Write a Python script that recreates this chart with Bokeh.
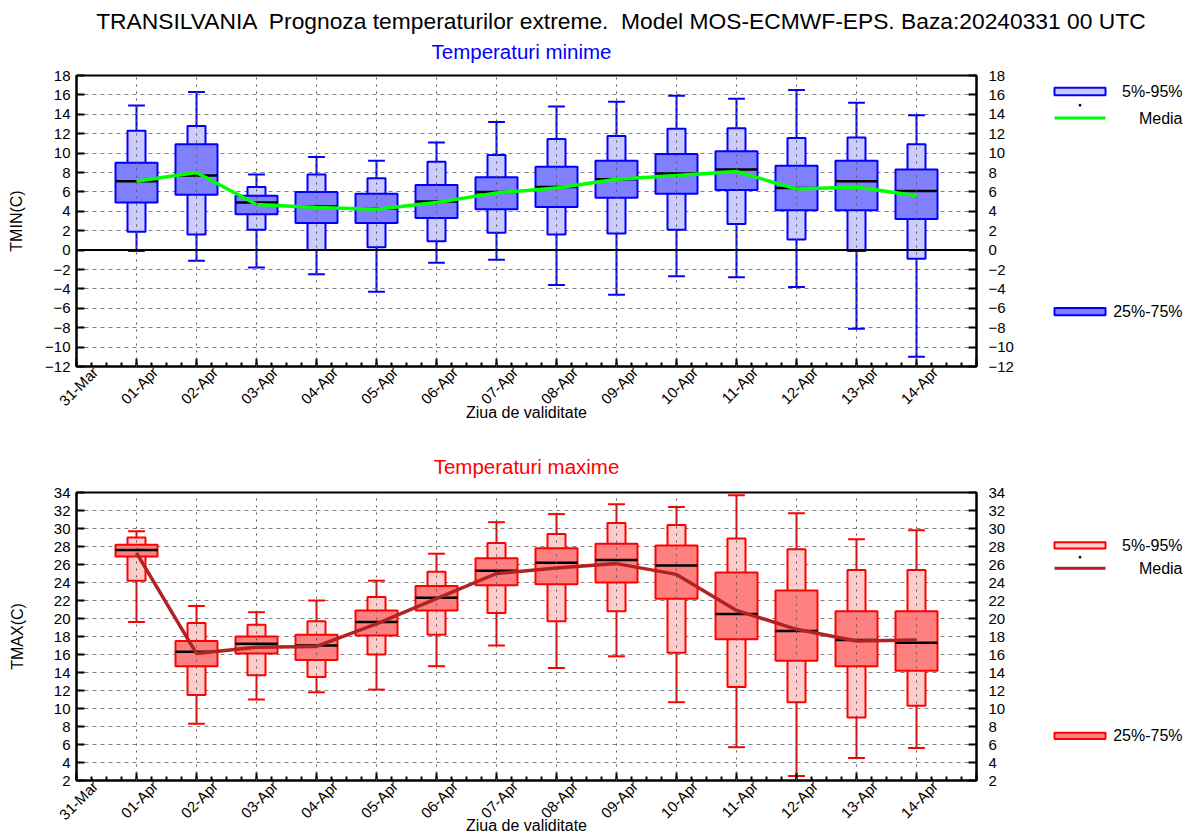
import math
from bokeh.plotting import figure
from bokeh.models import Range1d, LinearAxis, FixedTicker, Span, CustomJSTickFormatter
from bokeh.core.properties import value
from bokeh.layouts import column, row
from bokeh.embed import file_html
from bokeh.resources import INLINE

# ---------------- data ----------------
tick_labels = ["31-Mar", "01-Apr", "02-Apr", "03-Apr", "04-Apr", "05-Apr", "06-Apr", "07-Apr",
               "08-Apr", "09-Apr", "10-Apr", "11-Apr", "12-Apr", "13-Apr", "14-Apr", "15-Apr"]
day_pos = [1, 2, 3, 4, 5, 6, 7, 8, 9, 10, 11, 12, 13, 14]

tmin_max = [14.9, 16.3, 7.8, 9.6, 9.2, 11.1, 13.2, 14.8, 15.3, 15.9, 15.6, 16.5, 15.2, 13.9]
tmin_p95 = [12.3, 12.8, 6.5, 7.8, 7.4, 9.1, 9.8, 11.45, 11.76, 12.5, 12.55, 11.55, 11.6, 10.9]
tmin_p75 = [9.0, 10.9, 5.6, 6.0, 5.8, 6.7, 7.5, 8.6, 9.2, 9.9, 10.2, 8.7, 9.2, 8.3]
tmin_med = [7.1, 7.7, 4.9, 4.5, 4.3, 5.0, 6.0, 6.5, 7.3, 7.9, 8.3, 6.4, 7.1, 6.1]
tmin_p25 = [4.9, 5.7, 3.7, 2.8, 2.8, 3.3, 4.2, 4.45, 5.4, 5.8, 6.2, 4.1, 4.1, 3.2]
tmin_p5 = [1.9, 1.6, 2.1, 0.0, 0.3, 0.9, 1.8, 1.6, 1.7, 2.1, 2.7, 1.1, -0.1, -0.9]
tmin_min = [-0.1, -1.1, -1.8, -2.5, -4.3, -1.3, -1.0, -3.6, -4.6, -2.7, -2.8, -3.8, -8.1, -11.0]
tmin_mean = [7.1, 8.0, 4.7, 4.4, 4.2, 4.9, 5.9, 6.4, 7.3, 7.7, 8.1, 6.3, 6.5, 5.6]

tmax_max = [29.7, 21.4, 20.7, 22.0, 24.2, 27.2, 30.7, 31.6, 32.7, 32.4, 33.7, 31.7, 28.8, 29.8]
tmax_p95 = [29.0, 19.5, 19.3, 19.7, 22.4, 25.2, 28.4, 29.4, 30.6, 30.4, 28.9, 27.7, 25.4, 25.4]
tmax_p75 = [28.2, 17.5, 18.0, 18.2, 20.9, 23.6, 26.7, 27.8, 28.3, 28.1, 25.1, 23.1, 20.8, 20.8]
tmax_med = [27.6, 16.3, 17.2, 17.0, 19.6, 22.3, 25.3, 26.2, 26.5, 25.9, 20.5, 18.6, 17.6, 17.3]
tmax_p25 = [26.9, 14.7, 16.1, 15.4, 18.1, 20.9, 23.7, 23.8, 24.0, 22.2, 17.7, 15.3, 14.7, 14.2]
tmax_p5 = [24.2, 11.5, 13.7, 13.5, 16.0, 18.2, 20.6, 19.7, 20.8, 16.2, 12.4, 10.7, 9.0, 10.3]
tmax_min = [19.6, 8.3, 11.0, 11.8, 12.1, 14.7, 17.0, 14.5, 15.8, 10.7, 5.7, 2.5, 4.5, 5.6]
tmax_mean = [27.3, 16.1, 16.8, 16.9, 19.4, 22.2, 25.0, 25.6, 26.1, 24.9, 20.9, 18.8, 17.5, 17.6]

legend_labels = ["5%-95%", "Media", "25%-75%"]
main_title = "TRANSILVANIA \u00a0Prognoza temperaturilor extreme. \u00a0Model MOS-ECMWF-EPS. Baza:20240331 00 UTC"
sub_min = "Temperaturi minime"
sub_max = "Temperaturi maxime"

FONT = "Liberation Sans"
W_MAIN = 1016
W_LEG = 170


def blank_fig(width, height, xr, yr):
    f = figure(width=width, height=height, x_range=Range1d(*xr), y_range=Range1d(*yr),
               output_backend="svg", toolbar_location=None, x_axis_type=None, y_axis_type=None,
               min_border=0, min_border_left=0, min_border_right=0, min_border_top=0, min_border_bottom=0)
    f.outline_line_color = None
    f.grid.visible = False
    f.background_fill_color = "white"
    f.border_fill_color = "white"
    return f


def panel(height, ymin, ymax, top_b, bot_b, stats, colors, subtitle, ylabel, ylab_standoff, xlab_standoff):
    vmax, v95, v75, vmed, v25, v5, vmin, vmean = stats
    edge, dark, light, mean_col = colors
    p = figure(width=W_MAIN, height=height, x_range=Range1d(0, 15), y_range=Range1d(ymin, ymax),
               output_backend="svg", toolbar_location=None,
               min_border_left=76, min_border_right=40, min_border_top=top_b, min_border_bottom=bot_b)
    p.outline_line_color = "black"
    p.outline_line_width = 2
    p.background_fill_color = "white"
    p.border_fill_color = "white"

    if subtitle is None:
        p.title = None
    else:
        p.title.text = subtitle
        p.title.align = "center"
        p.title.offset = -5
        p.title.text_font = FONT
        p.title.text_font_size = "20.5px"
        p.title.text_font_style = "normal"
        p.title.text_color = edge
        p.title.standoff = 29

    xt = FixedTicker(ticks=list(range(16)), minor_ticks=[i * 0.25 for i in range(61)])
    yt = FixedTicker(ticks=list(range(int(ymin), int(ymax) + 1, 2)), minor_ticks=[])

    # axis 1: inward ticks only
    ax = p.xaxis[0]
    ax.ticker = xt
    ax.formatter = CustomJSTickFormatter(code="return ''")
    ax.major_label_text_font_size = "0px"
    ax.major_label_standoff = 0
    ax.major_tick_in = 8
    ax.major_tick_out = 0
    ax.minor_tick_in = 4
    ax.minor_tick_out = 0
    ax.major_tick_line_width = 2
    ax.minor_tick_line_width = 2
    ax.axis_line_width = 2

    # axis 2: rotated day labels, centred under their ticks
    p.extra_x_ranges = {"lab": Range1d(-0.3125, 14.6875)}
    lab = LinearAxis(x_range_name="lab", ticker=FixedTicker(ticks=list(range(16)), minor_ticks=[]),
                     bounds=(0, 15), major_label_overrides={i: t for i, t in enumerate(tick_labels)},
                     major_label_orientation=math.pi / 4, axis_line_color=None,
                     major_tick_line_color=None, minor_tick_line_color=None,
                     major_tick_in=0, major_tick_out=0, minor_tick_in=0, minor_tick_out=0,
                     major_label_standoff=3, major_label_text_font=FONT,
                     major_label_text_font_size="15px", major_label_text_color="black")
    p.add_layout(lab, "below")

    # axis 3: axis title only
    ttl = LinearAxis(ticker=FixedTicker(ticks=[], minor_ticks=[]), axis_line_color=None,
                     major_tick_line_color=None, minor_tick_line_color=None,
                     major_tick_in=0, major_tick_out=0, minor_tick_in=0, minor_tick_out=0,
                     major_label_standoff=0, axis_label="Ziua de validitate",
                     axis_label_standoff=xlab_standoff, axis_label_text_font=FONT,
                     axis_label_text_font_size="16px", axis_label_text_font_style="normal",
                     axis_label_text_color="black")
    p.add_layout(ttl, "below")

    p.yaxis.ticker = yt
    p.yaxis.major_tick_in = 8
    p.yaxis.major_tick_out = 0
    p.yaxis.major_tick_line_width = 2
    p.yaxis.axis_line_width = 2
    p.yaxis.major_label_standoff = 6
    p.yaxis.major_label_text_font = FONT
    p.yaxis.major_label_text_font_size = "15px"
    p.yaxis.major_label_text_color = "black"
    p.yaxis.axis_label = ylabel
    p.yaxis.axis_label_standoff = ylab_standoff
    p.yaxis.axis_label_text_font = FONT
    p.yaxis.axis_label_text_font_size = "16px"
    p.yaxis.axis_label_text_font_style = "normal"
    p.yaxis.axis_label_text_color = "black"

    ra = LinearAxis(ticker=yt, major_tick_in=8, major_tick_out=0, major_tick_line_width=2,
                    axis_line_width=2, major_label_standoff=12,
                    major_label_text_font=FONT, major_label_text_font_size="15px",
                    major_label_text_color="black")
    p.add_layout(ra, "right")

    p.xgrid.ticker = xt
    p.xgrid.grid_line_color = "#555555"
    p.xgrid.grid_line_dash = "2 5"
    p.xgrid.grid_line_width = 1
    p.xgrid.level = "overlay"
    p.ygrid.ticker = yt
    p.ygrid.grid_line_color = "#808080"
    p.ygrid.grid_line_dash = "4 4"
    p.ygrid.grid_line_width = 1

    x = day_pos
    p.segment(x0=x, y0=vmin, x1=x, y1=vmax, line_color=edge, line_width=2)
    p.segment(x0=[d - 0.14 for d in x], y0=vmax, x1=[d + 0.14 for d in x], y1=vmax, line_color=edge, line_width=2)
    p.segment(x0=[d - 0.14 for d in x], y0=vmin, x1=[d + 0.14 for d in x], y1=vmin, line_color=edge, line_width=2)
    p.quad(left=[d - 0.15 for d in x], right=[d + 0.15 for d in x], bottom=v5, top=v95,
           fill_color=light, line_color=edge, line_width=2)
    p.quad(left=[d - 0.35 for d in x], right=[d + 0.35 for d in x], bottom=v25, top=v75,
           fill_color=dark, line_color=edge, line_width=2)
    p.segment(x0=[d - 0.35 for d in x], y0=vmed, x1=[d + 0.35 for d in x], y1=vmed,
              line_color="black", line_width=2.5)
    p.line(x, vmean, line_color=mean_col, line_width=3.5)

    if ymin < 0 < ymax:
        p.add_layout(Span(location=0, dimension="width", line_color="black", line_width=2))
    return p


def legend_fig(height, y_top, colors, ly):
    # legend column to the right of a panel, in page pixel coordinates
    edge, dark, light, mean_col = colors
    y_light, y_dot, y_line, y_dark = ly
    f = blank_fig(W_LEG, height, (W_MAIN, W_MAIN + W_LEG), (y_top + height, y_top))
    f.quad(left=[1054], right=[1105], top=[y_light - 4.5], bottom=[y_light + 4.5],
           fill_color=light, line_color=edge, line_width=2)
    f.scatter(x=[1079.5], y=[y_dot], size=2, color="black")
    f.segment(x0=[1054], y0=[y_line], x1=[1105], y1=[y_line], line_color=mean_col, line_width=3)
    f.quad(left=[1054], right=[1105], top=[y_dark - 4.5], bottom=[y_dark + 4.5],
           fill_color=dark, line_color=edge, line_width=2)
    f.text(x=[1182] * 3, y=[y_light + 0.5, y_line, y_dark], text=legend_labels,
           text_align="right", text_baseline="middle", text_font=value(FONT),
           text_font_size="16px", text_color="black")
    return f


TOP_H = 64
P1_H = 360
P2_H = 837 - TOP_H - P1_H

cmin = ("#0000ff", "#8080ff", "#ccccff", "#00ff00")
cmax = ("#ff0000", "#ff8080", "#ffcccc", "#b22222")

top = blank_fig(1186, TOP_H, (0, 1186), (TOP_H, 0))
top.text(x=[621], y=[20], text=[main_title], text_align="center", text_baseline="middle",
         text_font=value(FONT), text_font_size="22.8px", text_color="black")
top.text(x=[521], y=[50.5], text=[sub_min], text_align="center", text_baseline="middle",
         text_font=value(FONT), text_font_size="20.5px", text_color=cmin[0])

p1 = panel(P1_H, -12, 18, 75 - TOP_H, P1_H - (75 - TOP_H) - 291,
           (tmin_max, tmin_p95, tmin_p75, tmin_med, tmin_p25, tmin_p5, tmin_min, tmin_mean),
           cmin, None, "TMIN(C)", 17, -15)
p2_top = 492 - TOP_H - P1_H
p2 = panel(P2_H, 2, 34, p2_top, P2_H - p2_top - 288,
           (tmax_max, tmax_p95, tmax_p75, tmax_med, tmax_p25, tmax_p5, tmax_min, tmax_mean),
           cmax, sub_max, "TMAX(C)", 25, -16)

l1 = legend_fig(P1_H, TOP_H, cmin, (83.8, 100.7, 116.7, 356.2))
l2 = legend_fig(P2_H, TOP_H + P1_H, cmax, (499.7, 516.7, 532.7, 772.9))

layout = column(top, row(p1, l1, spacing=0), row(p2, l2, spacing=0), spacing=0)
open("out.html", "w").write(file_html(layout, INLINE))
